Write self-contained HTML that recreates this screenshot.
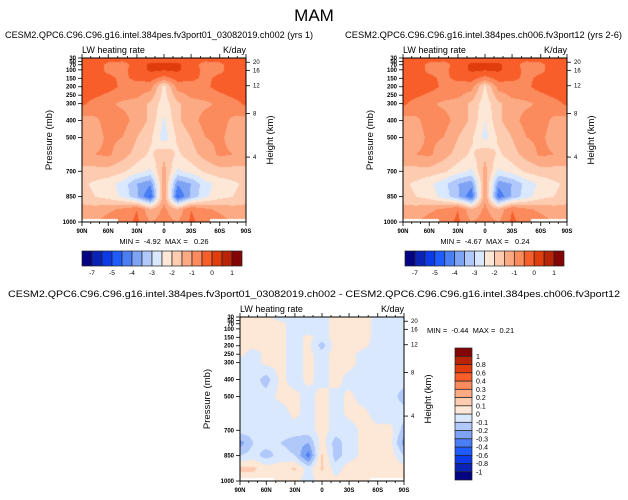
<!DOCTYPE html>
<html><head><meta charset="utf-8">
<style>
html,body{margin:0;padding:0;background:#fff;}
#root{position:relative;width:628px;height:500px;overflow:hidden;font-family:"Liberation Sans",sans-serif;}
canvas{position:absolute;}
svg{position:absolute;left:0;top:0;}
text{white-space:pre;}
</style></head>
<body>
<div id="root">
<canvas id="c1" width="164" height="164" style="left:82px;top:58px"></canvas>
<canvas id="c2" width="164" height="164" style="left:403px;top:58px"></canvas>
<canvas id="c3" width="164" height="164" style="left:240px;top:317px"></canvas>
<svg id="ov" width="628" height="500"></svg>
</div>
<script>
// ---- data ----
const lats = [90,75,60,45,30,15,0,-15,-30,-45,-60,-75,-90];
const plevs = [30,70,100,150,200,250,300,400,500,600,700,775,850,925,1000];
const levelsAbs = [-7,-6,-5,-4.5,-4,-3.5,-3,-2.5,-2,-1.5,-1,-0.5,0,0.5,1];
const levelsDiff = [-1,-0.8,-0.6,-0.4,-0.3,-0.2,-0.1,0,0.1,0.2,0.3,0.4,0.6,0.8,1];
const absTickLabels = ["-7","-5","-4","-3","-2","-1","0","1"];
const absTickLevels = [-7,-5,-4,-3,-2,-1,0,1];
const palette = ["#040482","#0a23b4","#0c3ae6","#1f5cff","#4a7ef5","#7fa3f4","#b0c8fa","#d9e8fc","#fde7d6","#fdcbb0","#fcaa84","#fb8a5c","#f85e2a","#e03c0c","#b92408","#840505"];
const pTicks = [30,50,70,100,150,200,250,300,400,500,700,850,1000];
const hTicks = [20,16,12,8,4];
const hTickP = [55,103,194,358,616];
const latTicks = [90,60,30,0,-30,-60,-90];
const latTickLabels = ["90N","60N","30N","0","30S","60S","90S"];
const field1 = [
[-0.3,-0.3,-0.3,-0.3,-0.3,-0.3,-0.3,-0.3,-0.3,-0.3,-0.3,-0.3,-0.3],
[-0.3,-0.3,-0.6,-0.7,-0.3,0.1,0.1,0.1,-0.3,-0.7,-0.6,-0.3,-0.3],
[-0.3,-0.3,-0.6,-0.6,-0.3,0.1,0.05,0.1,-0.3,-0.6,-0.6,-0.3,-0.3],
[-0.3,-0.3,-0.4,-0.6,-0.4,-0.3,-0.7,-0.3,-0.4,-0.6,-0.4,-0.3,-0.3],
[-0.3,-0.3,-0.3,-0.6,-0.7,-0.8,-2.2,-0.8,-0.7,-0.6,-0.3,-0.3,-0.3],
[-0.3,-0.4,-0.6,-0.8,-0.9,-1.2,-2.2,-1.2,-0.9,-0.8,-0.6,-0.4,-0.3],
[-0.4,-0.7,-0.9,-1.1,-1.2,-1.6,-2.3,-1.6,-1.2,-1.1,-0.9,-0.7,-0.4],
[-1.2,-1.1,-0.8,-0.8,-1.2,-1.6,-2.6,-1.6,-1.2,-0.8,-0.8,-1.1,-1.2],
[-1.3,-1.2,-0.9,-1.0,-1.5,-1.9,-2.8,-1.9,-1.5,-1.0,-0.9,-1.2,-1.3],
[-1.3,-1.0,-0.9,-1.3,-1.7,-2.1,-1.6,-2.1,-1.7,-1.3,-0.9,-1.0,-1.3],
[-1.6,-1.7,-1.7,-1.9,-2.3,-2.6,-1.3,-2.6,-2.3,-1.9,-1.7,-1.7,-1.6],
[-1.9,-2.1,-2.3,-2.7,-3.5,-3.9,-1.2,-3.9,-3.5,-2.7,-2.3,-2.1,-1.9],
[-1.8,-2.0,-2.2,-2.6,-3.4,-4.6,-1.0,-4.6,-3.4,-2.6,-2.2,-2.0,-1.8],
[-1.3,-1.3,-1.1,-0.9,-0.5,-1.4,-0.9,-1.4,-0.5,-0.9,-1.1,-1.3,-1.3],
[-1.0,-1.0,-0.8,-0.7,-0.4,-1.0,-0.8,-1.0,-0.4,-0.7,-0.8,-1.0,-1.0]];
const field2 = [
[-0.3,-0.3,-0.3,-0.3,-0.3,-0.3,-0.3,-0.3,-0.3,-0.3,-0.3,-0.3,-0.3],
[-0.3,-0.3,-0.6,-0.7,-0.3,0.1,0.1,0.1,-0.3,-0.7,-0.6,-0.3,-0.3],
[-0.3,-0.3,-0.6,-0.6,-0.3,0.1,0.05,0.1,-0.3,-0.6,-0.6,-0.3,-0.3],
[-0.3,-0.3,-0.4,-0.6,-0.4,-0.3,-0.7,-0.3,-0.4,-0.6,-0.4,-0.3,-0.3],
[-0.3,-0.3,-0.3,-0.6,-0.7,-0.8,-2.1,-0.8,-0.7,-0.6,-0.3,-0.3,-0.3],
[-0.3,-0.4,-0.6,-0.8,-0.9,-1.2,-2.2,-1.2,-0.9,-0.8,-0.6,-0.4,-0.3],
[-0.4,-0.7,-0.9,-1.1,-1.2,-1.6,-2.3,-1.6,-1.2,-1.1,-0.9,-0.7,-0.4],
[-1.2,-1.1,-0.8,-0.8,-1.2,-1.6,-2.5,-1.6,-1.2,-0.8,-0.8,-1.1,-1.2],
[-1.3,-1.2,-0.9,-1.0,-1.5,-1.9,-2.7,-1.9,-1.5,-1.0,-0.9,-1.2,-1.3],
[-1.3,-1.0,-0.9,-1.3,-1.7,-2.1,-1.6,-2.1,-1.7,-1.3,-0.9,-1.0,-1.3],
[-1.6,-1.7,-1.7,-1.9,-2.3,-2.6,-1.3,-2.6,-2.3,-1.9,-1.7,-1.7,-1.6],
[-1.9,-2.1,-2.4,-2.8,-3.5,-3.8,-1.2,-3.8,-3.5,-2.8,-2.4,-2.1,-1.9],
[-1.8,-2.0,-2.2,-2.7,-3.4,-4.4,-1.0,-4.4,-3.4,-2.7,-2.2,-2.0,-1.8],
[-1.3,-1.3,-1.1,-0.9,-0.5,-1.4,-0.9,-1.4,-0.5,-0.9,-1.1,-1.3,-1.3],
[-1.0,-1.0,-0.8,-0.7,-0.4,-1.0,-0.8,-1.0,-0.4,-0.7,-0.8,-1.0,-1.0]];
const fieldDiff = [
[0.03,0.03,0.03,-0.05,-0.05,-0.05,-0.05,0.05,0.05,0.05,-0.05,-0.05,-0.05],
[0.03,0.03,0.03,0.03,-0.05,-0.05,-0.05,0.05,0.05,0.05,-0.05,-0.05,-0.05],
[0.03,0.03,0.03,0.03,-0.05,-0.05,-0.05,0.05,0.05,0.05,-0.05,-0.05,-0.05],
[0.03,0.03,0.03,0.03,-0.05,0.03,-0.05,0.05,0.05,0.05,-0.05,-0.05,-0.05],
[0.03,0.03,0.03,0.03,-0.05,0.03,-0.15,0.05,0.05,0.03,-0.05,-0.05,-0.05],
[0.03,-0.05,0.03,0.03,-0.05,0.03,-0.05,0.05,0.05,-0.05,-0.05,-0.05,-0.05],
[-0.05,-0.05,0.03,0.03,-0.05,0.03,-0.05,0.05,0.05,-0.05,-0.05,-0.05,-0.05],
[-0.05,-0.05,-0.15,0.03,-0.05,0.03,-0.05,0.05,-0.05,-0.05,-0.05,-0.05,-0.05],
[-0.05,-0.05,-0.05,0.03,0.03,-0.05,0.05,-0.05,0.03,-0.05,-0.05,-0.05,-0.15],
[-0.05,-0.05,-0.05,-0.05,0.03,-0.05,0.05,-0.05,0.03,0.03,-0.05,-0.05,-0.05],
[-0.05,-0.05,-0.05,-0.05,-0.05,-0.05,0.05,-0.05,-0.05,0.03,0.03,0.03,-0.15],
[-0.25,-0.1,-0.05,-0.1,-0.15,-0.2,0.05,-0.15,-0.05,0.03,0.03,0.03,-0.25],
[-0.1,-0.05,-0.15,-0.05,-0.1,-0.35,0.12,-0.15,-0.05,0.03,0.03,0.05,-0.1],
[0.12,0.12,0.05,0.05,0.12,-0.05,0.12,-0.05,0.05,0.05,0.03,0.05,0.05],
[0.05,0.05,0.03,0.03,0.03,-0.05,0.05,0.03,0.03,0.03,0.03,0.03,0.03]];

// ---- scales ----
const W=164,H=164;
const absF=[0,30,60,90], fracF=[0,0.33,0.68,1];
function latToX(lat){
  const a=Math.abs(lat); let f=1;
  for(let i=0;i<3;i++){ if(a<=absF[i+1]){ f=fracF[i]+(a-absF[i])/(absF[i+1]-absF[i])*(fracF[i+1]-fracF[i]); break; } }
  const s = lat>=0 ? -1 : 1;
  return W/2 + s*f*W/2;
}
function xToLat(x){
  const g=(x-W/2)/(W/2); const f=Math.min(1,Math.abs(g)); let a=90;
  for(let i=0;i<3;i++){ if(f<=fracF[i+1]){ a=absF[i]+(f-fracF[i])/(fracF[i+1]-fracF[i])*(absF[i+1]-absF[i]); break; } }
  return g<0 ? a : -a;
}
function pToY(p){ return H - (1000-p)*H/970; }
function yToP(y){ return 1000 - (H-y)*970/H; }
function colorIndex(v, levels){ let i=0; while(i<levels.length && v>=levels[i]) i++; return i; }
function sample(field,lat,p){
  let j=0; while(j<lats.length-2 && lat<lats[j+1]) j++;
  let tj=(lats[j]-lat)/(lats[j]-lats[j+1]); tj=Math.max(0,Math.min(1,tj));
  let i=0; while(i<plevs.length-2 && p>plevs[i+1]) i++;
  let ti=(p-plevs[i])/(plevs[i+1]-plevs[i]); ti=Math.max(0,Math.min(1,ti));
  const a=field[i][j],b=field[i][j+1],c=field[i+1][j],d=field[i+1][j+1];
  return (a*(1-tj)+b*tj)*(1-ti)+(c*(1-tj)+d*tj)*ti;
}
function hex(h){ return [parseInt(h.substr(1,2),16),parseInt(h.substr(3,2),16),parseInt(h.substr(5,2),16)]; }
const palRGB = palette.map(hex);
function drawField(id, field, levels, maskLat){
  const cv=document.getElementById(id), ctx=cv.getContext('2d');
  const img=ctx.createImageData(W,H);
  for(let y=0;y<H;y++){ const p=yToP(y+0.5);
    for(let x=0;x<W;x++){ const lat=xToLat(x+0.5);
      let col=palRGB[colorIndex(sample(field,lat,p),levels)];
      if(y>=H-3 && Math.abs(lat)>maskLat) col=[255,255,255];
      const k=(y*W+x)*4; img.data[k]=col[0];img.data[k+1]=col[1];img.data[k+2]=col[2];img.data[k+3]=255;
    }}
  ctx.putImageData(img,0,0);
}
drawField('c1',field1,levelsAbs,50);
drawField('c2',field2,levelsAbs,50);
drawField('c3',fieldDiff,levelsDiff,52);

// ---- overlay ----
const NS="http://www.w3.org/2000/svg", ov=document.getElementById('ov');
function el(tag,attrs,txt){ const e=document.createElementNS(NS,tag); for(const k in attrs) e.setAttribute(k,attrs[k]); if(txt!==undefined) e.textContent=txt; ov.appendChild(e); return e; }
function txt(x,y,s,size,anchor,name,extra){ const e=el('text',Object.assign({x:x,y:y,'font-size':size,'text-anchor':anchor||'start','font-family':'Liberation Sans, sans-serif',fill:'#000'},extra||{}),s);
  
   return e; }

function axes(ox,oy,minmax,mmPos){
  const r=el('rect',{x:ox,y:oy,width:W,height:H,fill:'none',stroke:'#000','stroke-width':1});
  
  
  pTicks.forEach(p=>{ const y=oy+pToY(p);
    const t=el('line',{x1:ox-4,x2:ox,y1:y,y2:y,stroke:'#000','stroke-width':0.8});
    
    
    txt(ox-6,y+2,String(p),6,'end','pressure-tick-label',{'font-weight':'bold'});
  });
  hTicks.forEach((h,i)=>{ const y=oy+pToY(hTickP[i]);
    const t=el('line',{x1:ox+W,x2:ox+W+4,y1:y,y2:y,stroke:'#000','stroke-width':0.8});
    
    
    txt(ox+W+7,y+2,String(h),6,'start','height-tick-label');
  });
  for(let lat=90;lat>=-90;lat-=10){ const x=ox+latToX(lat); const major=lat%30===0;
    const len=major?4:2;
    const t1=el('line',{x1:x,x2:x,y1:oy+H,y2:oy+H+len,stroke:'#000','stroke-width':0.8});
    
    
    const t2=el('line',{x1:x,x2:x,y1:oy,y2:oy-len,stroke:'#000','stroke-width':0.8});
    
    
  }
  latTicks.forEach((lat,i)=>{ txt(ox+latToX(lat),oy+H+11,latTickLabels[i],6,'middle','lat-tick-label',{'font-weight':'bold'}); });
  txt(ox,oy-5,'LW heating rate',9,'start','subtitle-left');
  txt(ox+W,oy-5,'K/day',9,'end','units-label');
  txt(0,0,'Pressure (mb)',9.5,'middle','y-axis-title',{transform:`translate(${ox-30},${oy+H/2}) rotate(-90)`});
  txt(0,0,'Height (km)',9.5,'middle','y2-axis-title',{transform:`translate(${ox+W+27},${oy+H/2}) rotate(-90)`});
  txt(mmPos[0],mmPos[1],minmax,7.5,mmPos[2],'min-max-label');
}
txt(314,21,'MAM',17,'middle','figure-title');
txt(5,38,'CESM2.QPC6.C96.C96.g16.intel.384pes.fv3port01_03082019.ch002 (yrs 1)',9,'start','panel-title-1',{textLength:308,lengthAdjust:'spacingAndGlyphs'});
txt(345,38,'CESM2.QPC6.C96.C96.g16.intel.384pes.ch006.fv3port12 (yrs 2-6)',9,'start','panel-title-2',{textLength:277,lengthAdjust:'spacingAndGlyphs'});
txt(8,297,'CESM2.QPC6.C96.C96.g16.intel.384pes.fv3port01_03082019.ch002 - CESM2.QPC6.C96.C96.g16.intel.384pes.ch006.fv3port12',9,'start','panel-title-diff',{textLength:612,lengthAdjust:'spacingAndGlyphs'});
axes(82,58,'MIN =  -4.92  MAX =   0.26',[164,244,'middle']);
axes(403,58,'MIN =  -4.67  MAX =   0.24',[485,244,'middle']);
axes(240,317,'MIN =  -0.44  MAX =  0.21',[427,333,'start']);

function hbar(x0,y0,w,h){
  const bw=w/palette.length;
  palette.forEach((c,i)=>{ const r=el('rect',{x:x0+i*bw,y:y0,width:bw,height:h,fill:c,stroke:'#222','stroke-width':0.7});
    
     });
  absTickLevels.forEach((lv,i)=>{ const k=levelsAbs.indexOf(lv)+1; txt(x0+k*bw,y0+h+9,absTickLabels[i],6.5,'middle','colorbar-label'); });
}
hbar(82,251,160,15);
hbar(405,251,159,15);
function vbar(x0,y0,w,h){
  const n=palette.length, bh=h/n;
  palette.forEach((c,i)=>{ const r=el('rect',{x:x0,y:y0+(n-1-i)*bh,width:w,height:bh,fill:c,stroke:'#222','stroke-width':0.7});
    
     });
  levelsDiff.forEach((lv,i)=>{ const y=y0+(n-1-i)*bh; txt(x0+w+4,y+2.5,String(lv),7,'start','colorbar-label'); });
}
vbar(455,348,17,132);
</script>
</body></html>
